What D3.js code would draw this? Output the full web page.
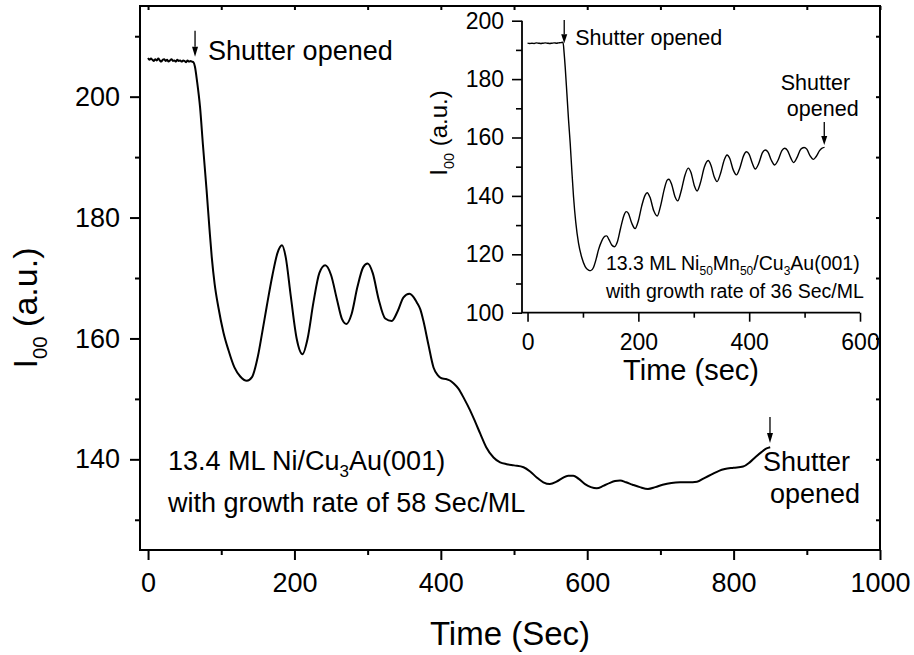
<!DOCTYPE html>
<html>
<head>
<meta charset="utf-8">
<script src="https://cdn.jsdelivr.net/npm/d3@7"></script>
<style>
  html, body { margin: 0; padding: 0; background: #fff; }
  svg { display: block; font-family: "Liberation Sans", Arial, Helvetica, sans-serif; }
</style>
</head>
<body>
<svg id="chart" width="914" height="655"></svg>
<script>
// ---- Main RHEED trace: 13.4 ML Ni on Cu3Au(001), 58 s/ML ----
const mainTime = [
  0, 2, 4, 6, 8, 10, 12, 14, 16, 18, 20, 22, 24, 26, 28, 30, 32, 34, 36, 38, 40,
  42, 44, 46, 48, 50, 52, 54, 56, 58, 60, 62,
  64, 67, 71, 75, 80, 84, 87, 91, 96, 103, 110, 118, 126, 135, 142, 150, 156, 162,
  170, 177, 183, 188, 195, 203, 211, 218, 226, 234, 242, 250, 258, 265, 271, 278,
  286, 294, 300, 307, 315, 324, 333, 341, 349, 357, 363, 367, 372, 376, 383, 390,
  396, 401, 407, 413, 418, 424, 432, 440, 447, 454, 462, 472, 481, 490, 500, 513,
  522, 531, 540, 549, 558, 566, 574, 581, 588, 597, 605, 613, 622, 631, 638, 645,
  653, 662, 672, 683, 693, 703, 715, 727, 738, 750, 760, 770, 780, 788, 800, 813,
  822, 830, 838, 845, 850
];
const mainSignal = [
  206.4, 206.1, 206.3, 206.1, 205.9, 206.2, 206.0, 206.3, 206.0, 205.8, 206.1, 206.2, 205.9, 206.1, 205.8, 206.0, 206.2, 205.9, 206.0, 205.8, 206.1,
  205.9, 206.0, 205.8, 206.0, 205.9, 205.7, 206.0, 205.8, 205.9, 205.8, 205.7,
  205.0, 202.5, 198.3, 192.0, 184.5, 178.0, 173.5, 169.0, 165.2, 161.0, 158.0, 155.2, 153.7, 153.0, 153.6, 157.0, 161.0, 165.2,
  170.5, 174.2, 175.4, 173.5, 167.0, 160.0, 157.4, 160.0, 166.0, 170.8, 172.1, 170.5, 166.5, 163.2, 162.4, 164.0,
  168.5, 171.8, 172.4, 170.8, 166.5, 163.3, 162.9, 164.5, 166.8, 167.4, 166.8, 166.0, 164.8, 163.0, 159.0, 155.2,
  153.9, 153.4, 153.3, 153.0, 152.5, 151.7, 150.0, 148.1, 146.2, 144.2, 142.0, 140.3, 139.5, 139.2, 139.0, 138.7,
  138.0, 137.0, 136.2, 135.9, 136.3, 136.9, 137.3, 137.3, 136.8, 135.9, 135.4, 135.2, 135.6, 136.1, 136.4, 136.5,
  136.2, 135.8, 135.4, 135.1, 135.4, 135.8, 136.1, 136.2, 136.2, 136.3, 136.9, 137.5, 138.1, 138.4, 138.6, 138.8,
  139.5, 140.4, 141.2, 141.8, 142.0
];

// ---- Inset trace: 13.3 ML Ni50Mn50 on Cu3Au(001), 36 s/ML ----
const insetTime = [
  0, 4, 8, 12, 16, 20, 24, 28, 32, 36, 40, 44, 48, 52, 56, 60, 64,
  66, 68, 71, 74, 77, 80, 83, 87, 92, 98, 104, 110, 114, 119, 124, 128, 134, 140, 143,
  147, 152, 157, 162, 168, 174, 178, 182, 188, 194, 200, 206, 212, 216, 221, 228, 234,
  240, 247, 252, 255, 260, 266, 271, 277, 284, 290, 295, 301, 306, 312, 319, 326, 331,
  337, 342, 348, 355, 360, 365, 371, 377, 383, 390, 395, 400, 406, 411, 417, 424, 429,
  434, 440, 446, 452, 459, 464, 469, 475, 480, 486, 493, 499, 504, 510, 516, 521, 527,
  531, 536
];
const insetSignal = [
  192.3, 192.2, 192.3, 192.2, 192.4, 192.3, 192.2, 192.3, 192.4, 192.3, 192.2, 192.3, 192.4, 192.3, 192.4, 192.5, 192.6,
  189.0, 184.0, 175.1, 166.0, 158.0, 148.5, 139.7, 131.0, 123.8, 118.8, 115.8, 114.6, 114.4, 115.5, 118.5, 121.5, 124.6, 126.2, 126.3,
  125.0, 123.2, 122.6, 124.2, 129.0, 133.3, 134.6, 134.0, 130.7, 128.8, 131.5, 136.5, 140.2, 141.1, 139.5, 134.8, 133.1,
  136.5, 142.5, 145.4, 145.7, 144.0, 139.8, 138.3, 141.5, 147.0, 149.5, 148.0, 143.5, 141.7, 144.5, 149.8, 152.1, 150.5,
  146.5, 144.9, 147.5, 152.3, 154.0, 152.8, 149.0, 147.2, 149.5, 153.8, 155.1, 154.2, 151.0, 149.2, 151.0, 154.8, 155.7,
  155.0, 152.2, 150.6, 152.2, 155.5, 156.3, 155.6, 153.0, 151.4, 153.0, 156.0, 156.6, 156.0, 153.7, 152.5, 153.5, 155.5,
  156.3, 156.6
];

// Axis ticks
const mainXMajor = [0, 200, 400, 600, 800, 1000];
const mainXMinor = [100, 300, 500, 700, 900];
const mainYMajor = [140, 160, 180, 200];
const mainYMinor = [130, 150, 170, 190, 210];
const insetXMajor = [0, 200, 400, 600];
const insetXMinor = [100, 300, 500];
const insetYMajor = [100, 120, 140, 160, 180, 200];
const insetYMinor = [110, 130, 150, 170, 190];

const svg = d3.select("#chart");

// ===================== Main panel =====================
const mx = d3.scaleLinear().domain([-11, 1000]).range([140, 880]);
const my = d3.scaleLinear().domain([125, 215]).range([550, 6]);

const main = svg.append("g");

function styleAxis(g, fontSize) {
  g.select(".domain").remove();
  g.selectAll(".tick line").attr("stroke", "#000").attr("stroke-width", 2);
  g.selectAll(".tick text").attr("fill", "#000").attr("font-size", fontSize)
    .attr("font-family", "'Liberation Sans', Arial, sans-serif");
}

// bottom axis (outward ticks)
main.append("g").attr("transform", `translate(0,${my.range()[0]})`)
  .call(d3.axisBottom(mx).tickValues(mainXMajor).tickSize(10).tickPadding(13).tickFormat(d3.format("d")))
  .call(g => styleAxis(g, 27));
main.append("g").attr("transform", `translate(0,${my.range()[0]})`)
  .call(d3.axisBottom(mx).tickValues(mainXMinor).tickSize(5).tickFormat(""))
  .call(g => styleAxis(g, 27));
// left axis
main.append("g").attr("transform", `translate(${mx.range()[0]},0)`)
  .call(d3.axisLeft(my).tickValues(mainYMajor).tickSize(10).tickPadding(10).tickFormat(d3.format("d")))
  .call(g => styleAxis(g, 27));
main.append("g").attr("transform", `translate(${mx.range()[0]},0)`)
  .call(d3.axisLeft(my).tickValues(mainYMinor).tickSize(5).tickFormat(""))
  .call(g => styleAxis(g, 27));
// mirrored top / right ticks pointing inward
main.append("g").attr("transform", `translate(0,${my.range()[1]})`)
  .call(d3.axisBottom(mx).tickValues(mainXMajor.concat(mainXMinor)).tickSize(4).tickFormat(""))
  .call(g => styleAxis(g, 27));
main.append("g").attr("transform", `translate(${mx.range()[1]},0)`)
  .call(d3.axisLeft(my).tickValues(mainYMajor.concat(mainYMinor)).tickSize(4).tickFormat(""))
  .call(g => styleAxis(g, 27));

// frame
main.append("rect")
  .attr("x", mx.range()[0]).attr("y", my.range()[1])
  .attr("width", mx.range()[1] - mx.range()[0])
  .attr("height", my.range()[0] - my.range()[1])
  .attr("fill", "none").attr("stroke", "#000").attr("stroke-width", 2);

// trace
const mainLine = d3.line()
  .x((d, i) => mx(mainTime[i]))
  .y((d, i) => my(mainSignal[i]))
  .curve(d3.curveMonotoneX);
main.append("path").datum(mainSignal)
  .attr("d", mainLine)
  .attr("fill", "none").attr("stroke", "#000").attr("stroke-width", 2)
  .attr("stroke-linejoin", "round");

// axis titles
main.append("text")
  .attr("x", (mx.range()[0] + mx.range()[1]) / 2).attr("y", 645)
  .attr("text-anchor", "middle").attr("font-size", 33).text("Time (Sec)");

function yTitle(g, x, y, size) {
  const t = g.append("text")
    .attr("transform", `translate(${x},${y}) rotate(-90)`)
    .attr("text-anchor", "middle").attr("font-size", size);
  t.append("tspan").text("I");
  t.append("tspan").attr("font-size", size * 0.6).attr("dy", size * 0.28).text("00");
  t.append("tspan").attr("dy", -size * 0.28).text(" (a.u.)");
}
yTitle(main, 37, 308, 34);

// annotation helpers
function arrow(g, x, y0, y1, head) {
  g.append("line").attr("x1", x).attr("x2", x).attr("y1", y0).attr("y2", y1 - head)
    .attr("stroke", "#000").attr("stroke-width", 1.3);
  g.append("path")
    .attr("d", `M${x - 3},${y1 - head} L${x + 3},${y1 - head} L${x},${y1} Z`)
    .attr("fill", "#000");
}

arrow(main, mx(64.2), my(210.9), my(206.6), 10);
main.append("text").attr("x", mx(82)).attr("y", my(206.1))
  .attr("font-size", 27).text("Shutter opened");

arrow(main, mx(849.7), my(147.0), my(142.7), 10);
main.append("text").attr("x", mx(840)).attr("y", my(138.0))
  .attr("font-size", 27).text("Shutter");
main.append("text").attr("x", mx(849.7)).attr("y", my(132.7))
  .attr("font-size", 27).text("opened");

const d1 = main.append("text").attr("x", mx(27.3)).attr("y", my(138.2)).attr("font-size", 27);
d1.append("tspan").text("13.4 ML Ni/Cu");
d1.append("tspan").attr("font-size", 17).attr("dy", 7).text("3");
d1.append("tspan").attr("dy", -7).text("Au(001)");
main.append("text").attr("x", mx(27.3)).attr("y", my(131.3)).attr("font-size", 27)
  .text("with growth rate of 58 Sec/ML");

// ===================== Inset panel =====================
const ix = d3.scaleLinear().domain([-10, 600]).range([522, 860]);
const iy = d3.scaleLinear().domain([100, 200]).range([312.7, 20.7]);
const inset = svg.append("g");

function styleInset(g) {
  g.select(".domain").remove();
  g.selectAll(".tick line").attr("stroke", "#000").attr("stroke-width", 1.6);
  g.selectAll(".tick text").attr("fill", "#000").attr("font-size", 23)
    .attr("font-family", "'Liberation Sans', Arial, sans-serif");
}
inset.append("g").attr("transform", `translate(0,${iy(100)})`)
  .call(d3.axisBottom(ix).tickValues(insetXMajor).tickSize(9).tickPadding(12).tickFormat(d3.format("d")))
  .call(styleInset);
inset.append("g").attr("transform", `translate(0,${iy(100)})`)
  .call(d3.axisBottom(ix).tickValues(insetXMinor).tickSize(5).tickFormat(""))
  .call(styleInset);
inset.append("g").attr("transform", `translate(${ix.range()[0]},0)`)
  .call(d3.axisLeft(iy).tickValues(insetYMajor).tickSize(10).tickPadding(8).tickFormat(d3.format("d")))
  .call(styleInset);
inset.append("g").attr("transform", `translate(${ix.range()[0]},0)`)
  .call(d3.axisLeft(iy).tickValues(insetYMinor).tickSize(6).tickFormat(""))
  .call(styleInset);
// inset axis lines
inset.append("path")
  .attr("d", `M${ix.range()[0]},${iy(200)} V${iy(100)} H${ix.range()[1]}`)
  .attr("fill", "none").attr("stroke", "#000").attr("stroke-width", 1.8);

const insetLine = d3.line()
  .x((d, i) => ix(insetTime[i]))
  .y((d, i) => iy(insetSignal[i]))
  .curve(d3.curveMonotoneX);
inset.append("path").datum(insetSignal)
  .attr("d", insetLine)
  .attr("fill", "none").attr("stroke", "#000").attr("stroke-width", 1.4)
  .attr("stroke-linejoin", "round");

inset.append("text")
  .attr("x", (ix.range()[0] + ix.range()[1]) / 2).attr("y", 380)
  .attr("text-anchor", "middle").attr("font-size", 29).text("Time (sec)");
yTitle(inset, 447, 133, 24);

arrow(inset, ix(66.2), iy(200.2), iy(192.3), 9);
inset.append("text").attr("x", ix(86)).attr("y", iy(191.7))
  .attr("font-size", 21.5).text("Shutter opened");
arrow(inset, ix(535.5), iy(165.3), iy(157.4), 9);
inset.append("text").attr("x", ix(457)).attr("y", iy(176.3))
  .attr("font-size", 21.5).text("Shutter");
inset.append("text").attr("x", ix(468)).attr("y", iy(167.4))
  .attr("font-size", 21.5).text("opened");

const d2 = inset.append("text").attr("x", ix(141.4)).attr("y", iy(114.6)).attr("font-size", 19.5);
d2.append("tspan").text("13.3 ML Ni");
d2.append("tspan").attr("font-size", 12).attr("dy", 5).text("50");
d2.append("tspan").attr("dy", -5).text("Mn");
d2.append("tspan").attr("font-size", 12).attr("dy", 5).text("50");
d2.append("tspan").attr("dy", -5).text("/Cu");
d2.append("tspan").attr("font-size", 12).attr("dy", 5).text("3");
d2.append("tspan").attr("dy", -5).text("Au(001)");
inset.append("text").attr("x", ix(141.4)).attr("y", iy(105.0)).attr("font-size", 19.5)
  .text("with growth rate of 36 Sec/ML");
</script>
</body>
</html>
